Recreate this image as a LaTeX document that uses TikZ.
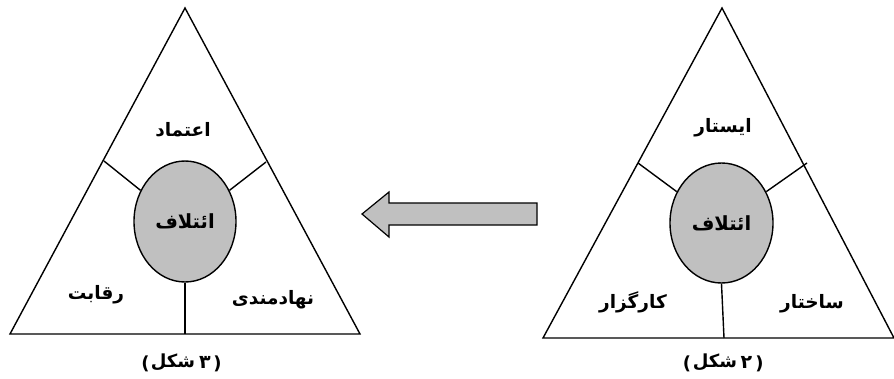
\documentclass[tikz,border=0pt]{standalone}
\usepackage{fontspec}
\TeXXeTstate=1
\newfontfamily\fa[Script=Arabic]{DejaVu Sans}
\newfontfamily\fan{DejaVu Sans}
\usetikzlibrary{shapes.geometric}
\definecolor{fillgray}{HTML}{C0C0C0}
\tikzset{
  edge/.style={line width=1.4pt, black},
  core/.style={ellipse, draw, line width=1.4pt, fill=fillgray, inner sep=0pt},
  lbl/.style={font=\fa\bfseries\fontsize{18.5}{22}\selectfont, inner sep=0pt},
  figcaption/.style={font=\fan\bfseries\fontsize{18}{20}\selectfont, inner sep=0pt},
  figdigit/.style={font=\fa\bfseries\fontsize{19}{20}\selectfont, inner sep=0pt},
}
\begin{document}
\begin{tikzpicture}[x=1pt,y=-1pt]
\useasboundingbox (0,0) rectangle (894,378);
% ---- left triangle (figure 3)
\coordinate (LA) at (185,8);
\coordinate (LB) at (10,334);
\coordinate (LC) at (360,334);
\draw[edge, line join=miter] (LA) -- (LB) -- (LC) -- cycle;
\node[core, minimum width=102pt, minimum height=121pt] (LE) at (185,221.5) {};
\coordinate (LBM) at (185,334);
\coordinate (LL) at (104,161);
\coordinate (LR) at (266,162);
\draw[edge] (LE.south) -- (LBM);
\draw[edge] (LL) -- (LE.145);
\draw[edge] (LR) -- (LE.35);
\node[lbl, font=\fa\bfseries\fontsize{19.5}{22}\selectfont] (L0) at (LE) {\beginR ائتلاف\endR};
\node[lbl] (L1) at (183,130) {\beginR اعتماد\endR};
\node[lbl] (L2) at (96,295) {\beginR رقابت\endR};
\node[lbl] (L3) at (273,300) {\beginR نهادمندی\endR};
\node[lbl, font=\fa\bfseries\fontsize{18}{20}\selectfont] (L4) at (173,362) {\beginR شکل\endR};
\node[figcaption] (L4o) at (145.5,364) {(};
\node[figdigit] (L4n) at (205,362) {٣};
\node[figcaption] (L4c) at (217.5,364) {)};
% ---- right triangle (figure 2)
\coordinate (RA) at (722,8);
\coordinate (RB) at (543,338);
\coordinate (RC) at (894,338);
\draw[edge, line join=miter] (RA) -- (RB) -- (RC) -- cycle;
\node[core, minimum width=103pt, minimum height=120pt] (RE) at (721.5,223) {};
\coordinate (RBM) at (724,338);
\coordinate (RL) at (638,163);
\coordinate (RR) at (807,163);
\draw[edge] (RE.south) -- (RBM);
\draw[edge] (RL) -- (RE.145);
\draw[edge] (RR) -- (RE.35);
\node[lbl, font=\fa\bfseries\fontsize{19.5}{22}\selectfont] (R0) at (RE) {\beginR ائتلاف\endR};
\node[lbl] (R1) at (723,128) {\beginR ایستار\endR};
\node[lbl] (R2) at (633,302) {\beginR کارگزار\endR};
\node[lbl] (R3) at (812,304) {\beginR ساختار\endR};
\node[lbl, font=\fa\bfseries\fontsize{18}{20}\selectfont] (R4) at (715,362) {\beginR شکل\endR};
\node[figcaption] (R4o) at (687,364) {(};
\node[figdigit] (R4n) at (746.5,362) {٢};
\node[figcaption] (R4c) at (759.5,364) {)};
% ---- block arrow
\draw[line width=1.2pt, fill=fillgray, line join=miter]
  (537,203) -- (389,203) -- (389,192) -- (362,214) -- (389,237) -- (389,225) -- (537,225) -- cycle;
\end{tikzpicture}
\end{document}
